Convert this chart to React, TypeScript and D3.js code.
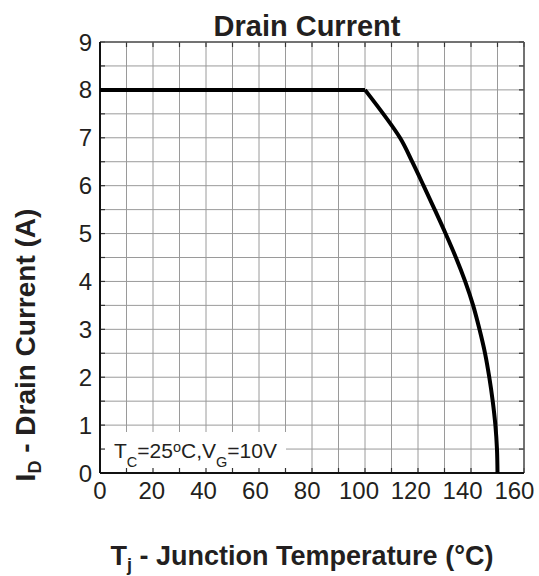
import * as d3 from "d3";
import { useEffect, useRef } from "react";

// Tj (°C) and ID (A)
const tempC = [0, 100, 113.2, 117.8, 122.1, 126.3, 130.4, 134.3, 137.8, 140.8, 143.2, 145.3, 146.9, 148.2, 149.2, 149.8, 150];
const drainA = [8, 8, 7, 6.5, 6, 5.5, 5, 4.5, 4, 3.5, 3, 2.5, 2, 1.5, 1, 0.5, 0];

const xTicks = [0, 20, 40, 60, 80, 100, 120, 140, 160];
const yTicks = [0, 1, 2, 3, 4, 5, 6, 7, 8, 9];

const W = 539;
const H = 576;
const FONT = "'Liberation Sans', Arial, Helvetica, sans-serif";
const INK = "#231f20";

export default function App() {
  const ref = useRef<SVGSVGElement>(null);

  useEffect(() => {
    const svg = d3.select(ref.current);
    svg.selectAll("*").remove();

    const x = d3.scaleLinear().domain([0, 160]).range([100, 524]);
    const y = d3.scaleLinear().domain([0, 9]).range([473, 42]);

    const xGrid = d3.range(0, 161, 10);
    const yGrid = d3.range(0, 9.01, 0.5);

    // grid
    const grid = svg.append("g").attr("stroke", "#9a9a9a").attr("stroke-width", 1);
    grid
      .selectAll("line.v")
      .data(xGrid)
      .enter()
      .append("line")
      .attr("x1", (d) => x(d))
      .attr("x2", (d) => x(d))
      .attr("y1", y(0))
      .attr("y2", y(9));
    grid
      .selectAll("line.h")
      .data(yGrid)
      .enter()
      .append("line")
      .attr("x1", x(0))
      .attr("x2", x(160))
      .attr("y1", (d) => y(d))
      .attr("y2", (d) => y(d));

    // condition label box hides the grid behind it
    svg
      .append("rect")
      .attr("x", x(0) + 1)
      .attr("y", 432)
      .attr("width", 185)
      .attr("height", y(0) - 432)
      .attr("fill", "#fff");

    const note = svg
      .append("text")
      .attr("x", 114)
      .attr("y", 458)
      .attr("font-family", FONT)
      .attr("font-size", 21)
      .attr("fill", INK);
    note.append("tspan").text("T");
    note.append("tspan").attr("font-size", 14.5).attr("dy", 9).text("C");
    note.append("tspan").attr("dy", -9).text("=25");
    note.append("tspan").attr("font-size", 14.5).attr("dy", -6).text("o");
    note.append("tspan").attr("dy", 6).text("C,V");
    note.append("tspan").attr("font-size", 14.5).attr("dy", 9).text("G");
    note.append("tspan").attr("dy", -9).text("=10V");

    // frame ticks (inward, all four sides)
    const tk = svg.append("g").attr("stroke", "#333").attr("stroke-width", 1.2);
    xGrid.forEach((d) => {
      tk.append("line").attr("x1", x(d)).attr("x2", x(d)).attr("y1", y(0)).attr("y2", y(0) - 5);
      tk.append("line").attr("x1", x(d)).attr("x2", x(d)).attr("y1", y(9)).attr("y2", y(9) + 5);
    });
    yGrid.forEach((d) => {
      tk.append("line").attr("x1", x(0)).attr("x2", x(0) + 5).attr("y1", y(d)).attr("y2", y(d));
      tk.append("line").attr("x1", x(160)).attr("x2", x(160) - 5).attr("y1", y(d)).attr("y2", y(d));
    });

    // frame
    svg.append("line").attr("x1", x(0)).attr("x2", x(160)).attr("y1", y(9)).attr("y2", y(9)).attr("stroke", "#555").attr("stroke-width", 1.5);
    svg.append("line").attr("x1", x(160)).attr("x2", x(160)).attr("y1", y(0)).attr("y2", y(9)).attr("stroke", "#555").attr("stroke-width", 1.5);
    svg.append("line").attr("x1", x(0)).attr("x2", x(0)).attr("y1", y(0)).attr("y2", y(9)).attr("stroke", "#111").attr("stroke-width", 2);
    svg.append("line").attr("x1", x(0)).attr("x2", x(160)).attr("y1", y(0)).attr("y2", y(0)).attr("stroke", "#111").attr("stroke-width", 2);

    // curve: flat part straight, roll-off smoothed
    const pts = tempC.map((t, i) => [t, drainA[i]] as [number, number]);
    const flat = d3.line<[number, number]>().x((d) => x(d[0])).y((d) => y(d[1]));
    const roll = d3
      .line<[number, number]>()
      .x((d) => x(d[0]))
      .y((d) => y(d[1]))
      .curve(d3.curveCatmullRom);
    svg.append("path").attr("d", flat(pts.slice(0, 2))).attr("fill", "none").attr("stroke", "#000").attr("stroke-width", 4);
    svg
      .append("path")
      .attr("d", roll(pts.slice(1)))
      .attr("fill", "none")
      .attr("stroke", "#000")
      .attr("stroke-width", 4)
      .attr("stroke-linejoin", "round");

    // tick labels (the source labels creep left as values grow)
    svg
      .selectAll("text.xt")
      .data(xTicks)
      .enter()
      .append("text")
      .attr("x", (d) => x(d) - d * 0.06)
      .attr("y", 499)
      .attr("text-anchor", "middle")
      .attr("font-family", FONT)
      .attr("font-size", 24)
      .attr("fill", INK)
      .text((d) => d);
    svg
      .selectAll("text.yt")
      .data(yTicks)
      .enter()
      .append("text")
      .attr("x", 92)
      .attr("y", (d) => y(d) + 8.5)
      .attr("text-anchor", "end")
      .attr("font-family", FONT)
      .attr("font-size", 24)
      .attr("fill", INK)
      .text((d) => d);

    // title
    svg
      .append("text")
      .attr("x", 307)
      .attr("y", 36)
      .attr("text-anchor", "middle")
      .attr("font-family", FONT)
      .attr("font-weight", "bold")
      .attr("font-size", 29)
      .attr("fill", INK)
      .text("Drain Current");

    // x axis title
    const xt = svg
      .append("text")
      .attr("x", 302)
      .attr("y", 565)
      .attr("text-anchor", "middle")
      .attr("font-family", FONT)
      .attr("font-weight", "bold")
      .attr("font-size", 27)
      .attr("fill", INK);
    xt.append("tspan").text("T");
    xt.append("tspan").attr("font-size", 18).attr("dy", 6).text("j");
    xt.append("tspan").attr("dy", -6).text(" - Junction Temperature (°C)");

    // y axis title
    const yt = svg
      .append("text")
      .attr("transform", `translate(35, 345) rotate(-90)`)
      .attr("text-anchor", "middle")
      .attr("font-family", FONT)
      .attr("font-weight", "bold")
      .attr("font-size", 28)
      .attr("fill", INK);
    yt.append("tspan").text("I");
    yt.append("tspan").attr("font-size", 18).attr("dy", 6).text("D");
    yt.append("tspan").attr("dy", -6).text(" - Drain Current (A)");
  }, []);

  return (
    <svg
      ref={ref}
      width={W}
      height={H}
      style={{ position: "absolute", left: 0, top: 0, background: "#fff" }}
    />
  );
}
